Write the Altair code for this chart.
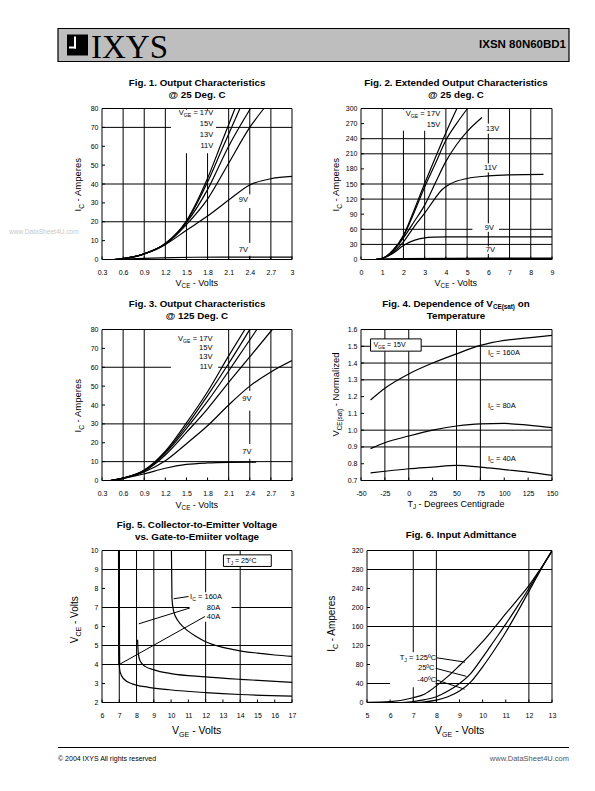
import altair as alt
import pandas as pd

FONT = "Liberation Sans"
SERIF = "Liberation Serif"

# ================= DATA =================
# ---- Fig. 1  Output characteristics @25C ----
f1_xticks = [0.3, 0.6, 0.9, 1.2, 1.5, 1.8, 2.1, 2.4, 2.7, 3.0]
f1_yticks = [0, 10, 20, 30, 40, 50, 60, 70, 80]
f1_gridx = [0.6, 0.9, 1.2, 1.5, 1.8, 2.1, 2.4, 2.7]
f1_gridy = [20, 40, 70]
f1_v17_x = [0.47, 0.6, 0.9, 1.2, 1.5, 1.8, 2.0, 2.19]
f1_v17_y = [0, 0.5, 3.0, 8.5, 20.5, 43, 62, 80]
f1_v15_x = [0.47, 0.6, 0.9, 1.2, 1.5, 1.8, 2.0, 2.26]
f1_v15_y = [0, 0.5, 3.0, 8.5, 20, 41, 58, 80]
f1_v13_x = [0.47, 0.6, 0.9, 1.2, 1.5, 1.8, 2.1, 2.41]
f1_v13_y = [0, 0.5, 3.0, 8.3, 19.5, 37, 60, 80]
f1_v11_x = [0.47, 0.6, 0.9, 1.2, 1.5, 1.8, 2.1, 2.4, 2.6]
f1_v11_y = [0, 0.5, 3.0, 8.0, 18.5, 32, 51, 70, 80]
f1_v9_x = [0.47, 0.6, 0.9, 1.2, 1.5, 1.8, 2.1, 2.4, 2.7, 3.0]
f1_v9_y = [0, 0.4, 3.0, 7.9, 15.5, 23, 31.5, 39.5, 42.8, 44]
f1_v7_x = [0.47, 0.7, 1.0, 1.3, 1.6, 2.0, 3.0]
f1_v7_y = [0, 0.3, 0.7, 1.0, 1.2, 1.3, 1.3]
f1_labels = ["15V", "13V", "11V", "9V", "7V"]
f1_label_x = [1.88, 1.88, 1.88, 2.31, 2.31]
f1_label_y = [71.9, 65.9, 60.3, 31.3, 5.0]
f1_label_align = ["right", "right", "right", "center", "center"]
f1_box_x1 = [1.28, 2.2, 2.2]
f1_box_x2 = [1.92, 2.43, 2.43]
f1_box_y1 = [56.3, 27.3, 2.0]
f1_box_y2 = [79.4, 34.5, 8.8]

# ---- Fig. 2  Extended output characteristics ----
f2_xticks = [0, 1, 2, 3, 4, 5, 6, 7, 8, 9]
f2_yticks = [0, 30, 60, 90, 120, 150, 180, 210, 240, 270, 300]
f2_gridx = [1, 2, 3, 4, 5, 6, 7, 8]
f2_gridy = [30, 60, 120, 150, 210, 240]
f2_v17_x = [0.7, 1.0, 1.5, 2.0, 2.5, 3.0, 3.5, 4.0, 4.52]
f2_v17_y = [0, 2, 18, 48, 98, 151, 202, 252, 300]
f2_v15_x = [0.7, 1.0, 1.5, 2.0, 2.5, 3.0, 3.5, 4.0, 4.5, 5.02]
f2_v15_y = [0, 2, 18, 46, 93, 144, 190, 237, 270, 300]
f2_v13_x = [0.7, 1.0, 1.5, 2.0, 2.5, 3.0, 3.5, 4.0, 4.5, 5.0, 5.7]
f2_v13_y = [0, 2, 16, 43, 75, 108, 152, 195, 228, 254, 282]
f2_v11_x = [0.7, 1.0, 1.5, 2.0, 2.5, 3.0, 3.5, 3.8, 4.2, 5.0, 6.0, 7.0, 8.6]
f2_v11_y = [0, 2, 14, 35, 65, 92, 122, 138, 150, 161, 166, 168, 169]
f2_v9_x = [0.7, 1.0, 1.5, 2.0, 2.5, 3.0, 3.5, 4.0, 5.0, 7.0, 9.0]
f2_v9_y = [0, 2, 12, 28, 38, 43, 44.5, 45, 45, 45, 45]
f2_v7_x = [0.7, 1.0, 2.0, 4.0, 9.0]
f2_v7_y = [0, 0.5, 1, 1.5, 2]
f2_labels = ["15V", "13V", "11V", "9V", "7V"]
f2_label_x = [3.73, 6.2, 6.1, 6.05, 6.1]
f2_label_y = [267, 260, 182, 63, 18.5]
f2_label_align = ["right", "center", "center", "center", "center"]
f2_box_x1 = [1.5, 5.75, 5.7, 5.25, 5.7]
f2_box_x2 = [3.85, 6.7, 6.5, 6.5, 6.5]
f2_box_y1 = [256, 250, 173, 55, 11]
f2_box_y2 = [298, 270, 191, 72, 26]

# ---- Fig. 3  Output characteristics @125C ----
f3_xticks = [0.3, 0.6, 0.9, 1.2, 1.5, 1.8, 2.1, 2.4, 2.7, 3.0]
f3_yticks = [0, 10, 20, 30, 40, 50, 60, 70, 80]
f3_gridx = [0.6, 0.9, 2.1, 2.4, 2.7]
f3_gridy = [10, 30, 60]
f3_v17_x = [0.42, 0.6, 0.9, 1.2, 1.5, 1.8, 2.1, 2.33]
f3_v17_y = [0, 1.3, 5.5, 15.5, 30.5, 47, 66, 80]
f3_v15_x = [0.42, 0.6, 0.9, 1.2, 1.5, 1.8, 2.1, 2.4]
f3_v15_y = [0, 1.3, 5.3, 15, 29, 45, 62, 80]
f3_v13_x = [0.42, 0.6, 0.9, 1.2, 1.5, 1.8, 2.1, 2.3, 2.5]
f3_v13_y = [0, 1.3, 5.1, 14.5, 27.5, 42, 58, 69, 80]
f3_v11_x = [0.42, 0.6, 0.9, 1.2, 1.5, 1.8, 2.1, 2.4, 2.72]
f3_v11_y = [0, 1.3, 4.9, 13.5, 25.5, 38, 52, 65.5, 80]
f3_v9_x = [0.42, 0.6, 0.9, 1.2, 1.5, 1.8, 2.1, 2.4, 2.7, 3.0]
f3_v9_y = [0, 1.2, 4.5, 10.5, 19.5, 29, 40, 50, 57.5, 63.5]
f3_v7_x = [0.42, 0.6, 0.9, 1.2, 1.5, 1.8, 2.1, 2.49]
f3_v7_y = [0, 1.0, 3.5, 6.5, 8.5, 9.3, 9.6, 9.7]
f3_labels = ["15V", "13V", "11V", "9V", "7V"]
f3_label_x = [1.87, 1.87, 1.87, 2.36, 2.36]
f3_label_y = [70.3, 65.4, 60.1, 43, 15]
f3_label_align = ["right", "right", "right", "center", "center"]
f3_box_x1 = [1.28, 2.22, 2.22]
f3_box_x2 = [1.95, 2.45, 2.45]
f3_box_y1 = [57.5, 37, 11.5]
f3_box_y2 = [79.4, 47.5, 19.3]

# ---- Fig. 4  VCE(sat) vs temperature ----
f4_xticks = [-50, -25, 0, 25, 50, 75, 100, 125, 150]
f4_yticks = [0.7, 0.8, 0.9, 1.0, 1.1, 1.2, 1.3, 1.4, 1.5, 1.6]
f4_gridx = [-25, 0, 50, 75]
f4_gridy = [0.9, 1.0, 1.3, 1.4, 1.5]
f4_temp = [-40, -25, 0, 25, 50, 75, 100, 125, 150]
f4_i160 = [1.18, 1.25, 1.335, 1.40, 1.455, 1.505, 1.535, 1.55, 1.565]
f4_i80 = [0.89, 0.925, 0.965, 1.0, 1.025, 1.038, 1.04, 1.03, 1.015]
f4_i40 = [0.745, 0.755, 0.77, 0.78, 0.79, 0.78, 0.765, 0.75, 0.73]
f4_ic_labels = [" = 160A", " = 80A", " = 40A"]
f4_ic_label_y = [1.465, 1.147, 0.829]

# ---- Fig. 5  VCE vs VGE ----
f5_xticks = [6, 7, 8, 9, 10, 11, 12, 13, 14, 15, 16, 17]
f5_yticks = [2, 3, 4, 5, 6, 7, 8, 9, 10]
f5_gridx = [7, 8, 9, 12, 14]
f5_gridy = [4, 5, 7, 9]
f5_i40_x = [6.98, 6.99, 7.0, 7.05, 7.25, 7.75, 8.7, 9.9, 12.0, 14.0, 17.0]
f5_i40_y = [10.0, 5.0, 4.0, 3.6, 3.25, 2.98, 2.8, 2.67, 2.52, 2.42, 2.34]
f5_i80_x = [8.06, 8.1, 8.2, 8.5, 9.0, 10.0, 12.0, 14.0, 17.0]
f5_i80_y = [5.3, 4.6, 4.2, 3.9, 3.72, 3.52, 3.35, 3.22, 3.06]
f5_i160_x = [10.02, 10.05, 10.15, 10.4, 10.8, 11.5, 12.0, 13.0, 14.0, 15.0, 16.0, 17.0]
f5_i160_y = [10.0, 7.5, 6.8, 6.3, 5.9, 5.45, 5.2, 4.9, 4.72, 4.6, 4.5, 4.43]
f5_lead_x1 = [10.15, 8.13, 7.0]
f5_lead_y1 = [7.46, 6.14, 4.0]
f5_lead_x2 = [11.01, 11.1, 11.97]
f5_lead_y2 = [7.58, 6.98, 6.53]
f5_labels = ["80A", "40A"]
f5_label_x = [12.07, 12.07]
f5_label_y = [7.0, 6.49]

# ---- Fig. 6  Input admittance ----
f6_xticks = [5, 6, 7, 8, 9, 10, 11, 12, 13]
f6_yticks = [0, 40, 80, 120, 160, 200, 240, 280, 320]
f6_gridx = [7, 8, 12]
f6_gridy = [40, 160, 280]
f6_t125_x = [5.0, 6.0, 7.0, 7.5, 8.0, 8.5, 9.0, 9.5, 10.0, 10.5, 11.0, 11.5, 12.0, 12.5, 13.0]
f6_t125_y = [0.5, 2, 10, 18, 35, 55, 78, 102, 128, 157, 187, 216, 246, 281, 318]
f6_t25_x = [6.5, 7.0, 7.5, 8.0, 8.5, 9.0, 9.5, 10.0, 10.5, 11.0, 11.5, 12.0, 12.5, 13.0]
f6_t25_y = [0, 2, 6, 12, 24, 40, 62, 95, 130, 165, 202, 240, 280, 320]
f6_tm40_x = [7.0, 7.5, 8.0, 8.5, 9.0, 9.5, 10.0, 10.5, 11.0, 11.5, 12.0, 12.5, 13.0]
f6_tm40_y = [0, 1.5, 5, 12, 24, 44, 75, 110, 148, 190, 234, 278, 320]
f6_lead_x1 = [8.03, 7.97, 8.03]
f6_lead_y1 = [94, 72, 47]
f6_lead_x2 = [9.24, 9.3, 9.22]
f6_lead_y2 = [85, 55, 28]
f6_labels = ["25ºC", "-40ºC"]
f6_label_x = [7.92, 7.99]
f6_label_y = [72, 47]

# ================= TEXT METRICS (Arial / Liberation Sans) =================
AR = dict(zip(" !\"#$%&'()*+,-./:;<=>?@",
              [278, 278, 355, 556, 556, 889, 667, 191, 333, 333, 389, 584, 278, 333, 278, 278,
               278, 278, 584, 584, 584, 556, 1015]))
AR.update({d: 556 for d in "0123456789"})
AR.update(dict(zip("ABCDEFGHIJKLMNOPQRSTUVWXYZ",
                   [667, 667, 722, 722, 667, 611, 778, 722, 278, 500, 667, 556, 833, 722, 778, 667,
                    778, 722, 667, 611, 722, 667, 944, 667, 667, 611])))
AR.update(dict(zip("abcdefghijklmnopqrstuvwxyz",
                   [556, 556, 500, 556, 556, 278, 556, 556, 222, 222, 500, 222, 833, 556, 556, 556,
                    556, 333, 500, 278, 556, 500, 722, 500, 500, 500])))
AR.update({"º": 365, "°": 400, "©": 737})
AB = dict(AR)
AB.update(dict(zip("ABCDEFGHIJKLMNOPQRSTUVWXYZ",
                   [722, 722, 722, 722, 667, 611, 778, 722, 278, 556, 722, 611, 833, 722, 778, 667,
                    778, 722, 667, 611, 722, 667, 944, 667, 667, 611])))
AB.update(dict(zip("abcdefghijklmnopqrstuvwxyz",
                   [556, 611, 556, 611, 556, 333, 611, 611, 278, 278, 556, 278, 889, 611, 611, 611,
                    611, 389, 556, 333, 611, 556, 778, 556, 556, 500])))
AB.update({"@": 975})


def tw(s, size, bold=False):
    tab = AB if bold else AR
    return sum(tab.get(ch, 556) for ch in s) * size / 1000.0


ONE = pd.DataFrame({"k": [0]})


class Panel:
    def __init__(self, w, h, xdom, ydom, xticks, yticks, xfmt, yfmt, xrange=None):
        self.w, self.h = w, h
        self.xdom, self.ydom = xdom, ydom
        self.xticks, self.yticks = xticks, yticks
        sx = dict(domain=xdom, nice=False, zero=False)
        if xrange:
            sx["range"] = xrange
        self.x0 = xrange[0] if xrange else 0
        self.xs = alt.Scale(**sx)
        self.ys = alt.Scale(domain=ydom, nice=False, zero=False)
        common = dict(title=None, grid=False, ticks=False, domain=False, labelFont=FONT,
                      labelFontSize=7, labelColor="black", labelFlush=False,
                      labelOverlap=False, labelBound=False)
        xa = dict(values=xticks, labelPadding=8.5, **common)
        ya = dict(values=yticks, labelPadding=4, **common)
        if xfmt == "expr":
            xa["labelExpr"] = "'' + datum.value"
        else:
            xa["format"] = xfmt
        if yfmt == "expr":
            ya["labelExpr"] = "'' + datum.value"
        else:
            ya["format"] = yfmt
        if self.x0:
            ya["offset"] = -self.x0
        self.xa = alt.Axis(**xa)
        self.ya = alt.Axis(**ya)
        self.L = []

    def X(self, f):
        return alt.X(f, type="quantitative", scale=self.xs, axis=self.xa)

    def Y(self, f):
        return alt.Y(f, type="quantitative", scale=self.ys, axis=self.ya)

    def grid(self, gx, gy):
        d = pd.DataFrame({"v": gx, "lo": self.ydom[0], "hi": self.ydom[1]})
        self.L.append(alt.Chart(d).mark_rule(color="black", strokeWidth=1).encode(
            x=self.X("v"), y=self.Y("lo"), y2=alt.Y2("hi")))
        d = pd.DataFrame({"v": gy, "lo": self.xdom[0], "hi": self.xdom[1]})
        self.L.append(alt.Chart(d).mark_rule(color="black", strokeWidth=1).encode(
            y=self.Y("v"), x=self.X("lo"), x2=alt.X2("hi")))

    def boxes(self, x1, x2, y1, y2, framed=False):
        d = pd.DataFrame({"x1": x1, "x2": x2, "y1": y1, "y2": y2})
        if framed:
            m = alt.Chart(d).mark_rect(fill="white", stroke="black", strokeWidth=1)
        else:
            m = alt.Chart(d).mark_rect(color="white")
        self.L.append(m.encode(x=self.X("x1"), x2=alt.X2("x2"), y=self.Y("y1"), y2=alt.Y2("y2")))

    def inner_ticks(self):
        d = pd.DataFrame({"v": self.yticks})
        self.L.append(alt.Chart(d).mark_rule(color="black", strokeWidth=1).encode(
            y=self.Y("v"), x=alt.value(self.x0), x2=alt.value(self.x0 + 3)))
        d = pd.DataFrame({"v": self.xticks})
        self.L.append(alt.Chart(d).mark_rule(color="black", strokeWidth=1).encode(
            x=self.X("v"), y=alt.value(self.h), y2=alt.value(self.h - 3)))

    def curves(self, series, width=1.2, color="black"):
        rows = []
        for name, xs, ys in series:
            for i, (a, b) in enumerate(zip(xs, ys)):
                rows.append({"s": name, "i": i, "x": a, "y": b})
        d = pd.DataFrame(rows)
        self.L.append(alt.Chart(d).mark_line(color=color, strokeWidth=width,
                                             interpolate="monotone", clip=True).encode(
            x=self.X("x"), y=self.Y("y"), detail="s:N", order="i:Q"))

    def segs(self, x1, y1, x2, y2):
        d = pd.DataFrame({"x1": x1, "y1": y1, "x2": x2, "y2": y2})
        self.L.append(alt.Chart(d).mark_rule(color="black", strokeWidth=1).encode(
            x=self.X("x1"), y=self.Y("y1"), x2=alt.X2("x2"), y2=alt.Y2("y2")))

    def border(self):
        d = pd.DataFrame({"x1": [self.xdom[0]], "x2": [self.xdom[1]],
                          "y1": [self.ydom[0]], "y2": [self.ydom[1]]})
        self.L.append(alt.Chart(d).mark_rect(filled=False, stroke="black", strokeWidth=1).encode(
            x=self.X("x1"), x2=alt.X2("x2"), y=self.Y("y1"), y2=alt.Y2("y2")))

    def text(self, s, x, y, align="center", size=7.5):
        d = pd.DataFrame({"x": [x], "y": [y]})
        self.L.append(alt.Chart(d).mark_text(text=s, font=FONT, fontSize=size, align=align,
                                             baseline="middle", color="black").encode(
            x=self.X("x"), y=self.Y("y")))

    def _rich(self, parts, data, xe, ye, align, angle=0, color="black"):
        main = max(p[1] for p in parts)
        widths = [tw(t, s, b) for t, s, sub, b in parts]
        tot = sum(widths)
        off = {"left": 0.0, "center": -tot / 2.0, "right": -tot}[align]
        base = 0.34 * main
        for (t, s, sub, b), w in zip(parts, widths):
            lead = len(t) - len(t.lstrip(" "))
            kw = dict(text=t.strip(" "), font=FONT, fontSize=s, align="left",
                      baseline="alphabetic", color=color,
                      dx=round(off + tw(" " * lead, s, b), 2),
                      dy=round(base + (0.24 * main if sub else 0.0), 2))
            if b:
                kw["fontWeight"] = "bold"
            if angle:
                kw["angle"] = angle
            self.L.append(alt.Chart(data).mark_text(**kw).encode(x=xe, y=ye))
            off += w

    def rich(self, parts, x, y, align="left"):
        d = pd.DataFrame({"x": [x], "y": [y]})
        self._rich(parts, d, self.X("x"), self.Y("y"), align)

    def prich(self, parts, px, py, align="center", angle=0):
        self._rich(parts, ONE, alt.value(px), alt.value(py), align, angle)

    def ptext(self, s, px, py, align="center", size=9.8, bold=False, font=FONT,
              color="black", baseline="middle"):
        kw = dict(text=s, font=font, fontSize=size, align=align, baseline=baseline, color=color)
        if bold:
            kw["fontWeight"] = "bold"
        self.L.append(alt.Chart(ONE).mark_text(**kw).encode(x=alt.value(px), y=alt.value(py)))

    def prect(self, x1, x2, y1, y2, fill, stroke=None, sw=1):
        kw = dict(fill=fill)
        if stroke:
            kw["stroke"] = stroke
            kw["strokeWidth"] = sw
        self.L.append(alt.Chart(ONE).mark_rect(**kw).encode(
            x=alt.value(x1), x2=alt.value(x2), y=alt.value(y1), y2=alt.value(y2)))

    def prule(self, x1, x2, y1, y2, sw=1, color="black"):
        self.L.append(alt.Chart(ONE).mark_rule(color=color, strokeWidth=sw).encode(
            x=alt.value(x1), x2=alt.value(x2), y=alt.value(y1), y2=alt.value(y2)))

    def chart(self):
        return alt.layer(*self.L).properties(width=self.w, height=self.h)


def sub_label(a, b, c, size=7.5, subsize=5.2, bold=False):
    return [(a, size, False, bold), (b, subsize, True, bold), (c, size, False, bold)]


VCE_X = sub_label("V", "CE", " - Volts", 9, 6.3)
IC_Y = sub_label("I", "C", " - Amperes", 9.5, 6.6)

# ---------------- Fig 1 ----------------
p1 = Panel(190, 151, [0.3, 3.0], [0, 80], f1_xticks, f1_yticks, "expr", "expr")
p1.grid(f1_gridx, f1_gridy)
p1.boxes(f1_box_x1, f1_box_x2, f1_box_y1, f1_box_y2)
p1.inner_ticks()
p1.curves([("17V", f1_v17_x, f1_v17_y), ("15V", f1_v15_x, f1_v15_y), ("13V", f1_v13_x, f1_v13_y),
           ("11V", f1_v11_x, f1_v11_y), ("9V", f1_v9_x, f1_v9_y), ("7V", f1_v7_x, f1_v7_y)])
p1.rich(sub_label("V", "GE", " = 17V"), 1.88, 77.9, "right")
for s, x, y, a in zip(f1_labels, f1_label_x, f1_label_y, f1_label_align):
    p1.text(s, x, y, a)
p1.border()
p1.ptext("Fig. 1. Output Characteristics", 95, -26, bold=True)
p1.ptext("@ 25 Deg. C", 95, -14, bold=True)
p1.prich(VCE_X, 95, 174, "center")
p1.prich(IC_Y, -24, 76, "center", angle=270)
# page header (drawn relative to this panel)
p1.prect(-44, 467, -80, -47, fill="#bebebe", stroke="black", sw=1.2)
p1.prect(-35, -14, -74, -53, fill="black")
p1.prect(-28, -26, -72, -60, fill="white")
p1.prect(-33, -26, -62, -60, fill="white")
p1.ptext("IXYS", -11, -51, align="left", size=33, font=SERIF, baseline="alphabetic")
p1.ptext("IXSN 80N60BD1", 464, -63.5, align="right", size=11.5, bold=True)
p1.ptext("www.DataSheet4U.com", -93, 123, align="left", size=6.6, color="#c8c8c8")

# ---------------- Fig 2 ----------------
p2 = Panel(191, 151, [0, 9], [0, 300], f2_xticks, f2_yticks, "expr", "expr")
p2.grid(f2_gridx, f2_gridy)
p2.boxes(f2_box_x1, f2_box_x2, f2_box_y1, f2_box_y2)
p2.inner_ticks()
p2.curves([("17V", f2_v17_x, f2_v17_y), ("15V", f2_v15_x, f2_v15_y), ("13V", f2_v13_x, f2_v13_y),
           ("11V", f2_v11_x, f2_v11_y), ("9V", f2_v9_x, f2_v9_y)])
p2.curves([("7V", f2_v7_x, f2_v7_y)], width=2)
p2.rich(sub_label("V", "GE", " = 17V"), 3.73, 290, "right")
for s, x, y, a in zip(f2_labels, f2_label_x, f2_label_y, f2_label_align):
    p2.text(s, x, y, a)
p2.border()
p2.ptext("Fig. 2. Extended Output Characteristics", 95, -26, bold=True)
p2.ptext("@ 25 deg. C", 95, -14, bold=True)
p2.prich(VCE_X, 95, 174, "center")
p2.prich(IC_Y, -25, 76, "center", angle=270)

# ---------------- Fig 3 ----------------
p3 = Panel(190, 151, [0.3, 3.0], [0, 80], f3_xticks, f3_yticks, "expr", "expr")
p3.grid(f3_gridx, f3_gridy)
p3.boxes(f3_box_x1, f3_box_x2, f3_box_y1, f3_box_y2)
p3.inner_ticks()
p3.curves([("17V", f3_v17_x, f3_v17_y), ("15V", f3_v15_x, f3_v15_y), ("13V", f3_v13_x, f3_v13_y),
           ("11V", f3_v11_x, f3_v11_y), ("9V", f3_v9_x, f3_v9_y), ("7V", f3_v7_x, f3_v7_y)])
p3.rich(sub_label("V", "GE", " = 17V"), 1.87, 75.2, "right")
for s, x, y, a in zip(f3_labels, f3_label_x, f3_label_y, f3_label_align):
    p3.text(s, x, y, a)
p3.border()
p3.ptext("Fig. 3. Output Characteristics", 95, -26, bold=True)
p3.ptext("@ 125 Deg. C", 95, -14, bold=True)
p3.prich(VCE_X, 95, 175, "center")
p3.prich(IC_Y, -24, 76, "center", angle=270)

# ---------------- Fig 4 ----------------
p4 = Panel(191, 151, [-50, 150], [0.7, 1.6], f4_xticks, f4_yticks, "expr", ".1f")
p4.grid(f4_gridx, f4_gridy)
p4.inner_ticks()
p4.curves([("160A", f4_temp, f4_i160), ("80A", f4_temp, f4_i80), ("40A", f4_temp, f4_i40)])
p4.boxes([-40], [13], [1.471], [1.544], framed=True)
p4.rich(sub_label("V", "GE", " = 15V", 7, 4.9), -37, 1.507, "left")
for s, y in zip(f4_ic_labels, f4_ic_label_y):
    p4.rich(sub_label("I", "C", s), 83, y, "left")
p4.border()
p4.prich([("Fig. 4. Dependence of V", 9.8, False, True), ("CE(sat)", 6.3, True, True),
          (" on", 9.8, False, True)], 95, -26, "center")
p4.ptext("Temperature", 95, -14, bold=True)
p4.prich(sub_label("T", "J", " - Degrees Centigrade", 9, 6.3), 95, 174, "center")
p4.prich(sub_label("V", "CE(sat)", " - Normalized", 9.5, 6.3), -25, 65, "center", angle=270)

# ---------------- Fig 5 ----------------
p5 = Panel(190, 152, [6, 17], [2, 10], f5_xticks, f5_yticks, "expr", "expr")
p5.grid(f5_gridx, f5_gridy)
p5.boxes([11.05], [13.5], [6.25], [7.8])
p5.inner_ticks()
p5.curves([("40A", f5_i40_x, f5_i40_y), ("80A", f5_i80_x, f5_i80_y), ("160A", f5_i160_x, f5_i160_y)])
p5.curves([("40A", f5_i40_x[:3], f5_i40_y[:3])], width=2)
p5.segs(f5_lead_x1, f5_lead_y1, f5_lead_x2, f5_lead_y2)
p5.rich(sub_label("I", "C", " = 160A"), 11.1, 7.58, "left")
for s, x, y in zip(f5_labels, f5_label_x, f5_label_y):
    p5.text(s, x, y, "left")
p5.boxes([13.03], [15.8], [9.16], [9.77], framed=True)
p5.rich(sub_label("T", "J", " = 25ºC", 7, 4.9), 13.2, 9.47, "left")
p5.border()
p5.ptext("Fig. 5. Collector-to-Emitter Voltage", 95, -26, bold=True)
p5.ptext("vs. Gate-to-Emiiter voltage", 95, -14, bold=True)
p5.prich(sub_label("V", "GE", " - Volts", 10.5, 7), 95, 180, "center")
p5.prich(sub_label("V", "CE", " - Volts", 10, 7), -27, 69, "center", angle=270)
# page footer (drawn relative to this panel)
p5.prule(-44, 467, 197, 197, sw=1.2)
p5.ptext("© 2004 IXYS All rights reserved", -44, 208, align="left", size=7)
p5.ptext("www.DataSheet4U.com", 467, 208, align="right", size=7.5, color="#555555")

# ---------------- Fig 6 ----------------
p6 = Panel(191, 152, [5, 13], [0, 320], f6_xticks, f6_yticks, "expr", "expr", xrange=[6, 191])
p6.grid(f6_gridx, f6_gridy)
p6.boxes([6.0], [7.96], [32], [106])
p6.inner_ticks()
p6.curves([("125C", f6_t125_x, f6_t125_y), ("25C", f6_t25_x, f6_t25_y), ("-40C", f6_tm40_x, f6_tm40_y)])
p6.segs(f6_lead_x1, f6_lead_y1, f6_lead_x2, f6_lead_y2)
p6.rich(sub_label("T", "J", " = 125ºC"), 7.99, 94, "right")
for s, x, y in zip(f6_labels, f6_label_x, f6_label_y):
    p6.text(s, x, y, "right")
p6.border()
p6.ptext("Fig. 6. Input Admittance", 100, -16, bold=True)
p6.prich(sub_label("V", "GE", " - Volts", 10.5, 7), 99, 180, "center")
p6.prich(sub_label("I", "C", " - Amperes", 10, 7), -29, 73, "center", angle=270)

chart = alt.concat(
    p1.chart(), p2.chart(), p3.chart(), p4.chart(), p5.chart(), p6.chart(),
    columns=2, spacing={"row": 70, "column": 69}, bounds="flush",
).properties(
    padding={"left": 0, "top": 18.5, "right": 6, "bottom": 6},
    background="white",
).configure_view(stroke="transparent")

chart.save("out.html", embed_options={"renderer": "svg", "actions": False})
